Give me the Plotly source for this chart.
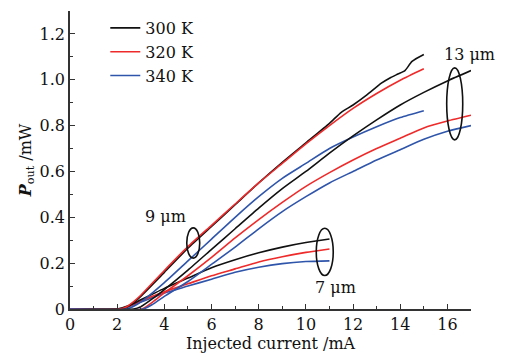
import plotly.graph_objects as go

# ---------------- data ----------------
temps = ["300 K", "320 K", "340 K"]
colors = ["#111111", "#ee2a2a", "#2f55ab"]

# 7 um ridge
x7_300 = [0, 2.0, 2.5, 3, 3.5, 4, 5, 6, 7, 8, 9, 10, 11]
y7_300 = [0, 0, 0.015, 0.04, 0.065, 0.09, 0.135, 0.18, 0.215, 0.245, 0.27, 0.29, 0.305]
x7_320 = [0, 2.1, 2.5, 3, 4, 5, 6, 7, 8, 9, 10, 11]
y7_320 = [0, 0, 0.012, 0.035, 0.075, 0.11, 0.145, 0.175, 0.205, 0.228, 0.247, 0.262]
x7_340 = [0, 2.2, 2.5, 3, 4, 5, 6, 7, 8, 9, 10, 11]
y7_340 = [0, 0, 0.01, 0.03, 0.07, 0.1, 0.13, 0.16, 0.182, 0.198, 0.207, 0.21]

# 9 um ridge
x9_300 = [0, 2.15, 2.4, 2.7, 3, 4, 5, 6, 7, 8, 9, 10, 11, 11.5, 12, 12.6, 13.2, 13.6, 13.9, 14.2, 14.5, 15]
y9_300 = [0, 0, 0.008, 0.028, 0.055, 0.16, 0.265, 0.36, 0.455, 0.55, 0.64, 0.725, 0.81, 0.858, 0.89, 0.935, 0.985, 1.01, 1.025, 1.04, 1.08, 1.11]
x9_320 = [0, 2.1, 2.4, 2.7, 3, 4, 5, 6, 7, 8, 9, 10, 11, 12, 13, 14, 15]
y9_320 = [0, 0, 0.01, 0.032, 0.06, 0.168, 0.272, 0.365, 0.458, 0.55, 0.635, 0.72, 0.80, 0.875, 0.94, 0.998, 1.048]
x9_340 = [0, 2.4, 2.7, 3, 4, 5, 6, 7, 8, 9, 10, 11, 12, 13, 14, 15]
y9_340 = [0, 0, 0.012, 0.03, 0.115, 0.21, 0.305, 0.40, 0.49, 0.57, 0.635, 0.70, 0.75, 0.795, 0.835, 0.865]

# 13 um ridge
x13_300 = [0, 2.7, 3, 3.5, 4, 5, 6, 7, 8, 9, 10, 11, 12, 13, 14, 15, 16, 17]
y13_300 = [0, 0, 0.01, 0.045, 0.085, 0.17, 0.26, 0.35, 0.44, 0.525, 0.60, 0.68, 0.755, 0.825, 0.89, 0.945, 0.995, 1.04]
x13_320 = [0, 3.05, 3.5, 4, 5, 6, 7, 8, 9, 10, 11, 12, 13, 14, 15, 16, 17]
y13_320 = [0, 0, 0.03, 0.07, 0.145, 0.225, 0.31, 0.39, 0.465, 0.535, 0.595, 0.65, 0.70, 0.745, 0.79, 0.82, 0.845]
x13_340 = [0, 3.1, 3.5, 4, 5, 6, 7, 8, 9, 10, 11, 12, 13, 14, 15, 16, 17]
y13_340 = [0, 0, 0.02, 0.055, 0.12, 0.195, 0.27, 0.35, 0.425, 0.49, 0.55, 0.60, 0.65, 0.695, 0.74, 0.775, 0.80]

y_tickvals = [0, 0.2, 0.4, 0.6, 0.8, 1.0, 1.2]
y_ticktext = ["0", "0.2", "0.4", "0.6", "0.8", "1.0", "1.2"]
x_tickvals = [0, 2, 4, 6, 8, 10, 12, 14, 16]

# ring annotations: label, label position, ellipse box (x0, x1, y0, y1)
ring_labels = ["9 μm", "13 μm", "7 μm"]
ring_label_pos = [(4.05, 0.405), (16.95, 1.11), (11.25, 0.095)]
ring_boxes = [(4.95, 5.5, 0.222, 0.354), (15.97, 16.65, 0.738, 1.052), (10.44, 11.16, 0.146, 0.352)]

# ---------------- figure ----------------
fig = go.Figure()
groups = [
    [(x7_300, y7_300), (x7_320, y7_320), (x7_340, y7_340)],
    [(x9_300, y9_300), (x9_320, y9_320), (x9_340, y9_340)],
    [(x13_300, y13_300), (x13_320, y13_320), (x13_340, y13_340)],
]
for gi, grp in enumerate(groups):
    order = [2, 1, 0] if gi == 0 else [0, 1, 2]
    for ti in order:
        xs, ys = grp[ti]
        fig.add_trace(go.Scatter(
            x=xs, y=ys, mode="lines",
            line=dict(color=colors[ti], width=1.6, shape="spline", smoothing=0.6),
            name=temps[ti], legendgroup=temps[ti],
            showlegend=(gi == 1), legendrank=ti + 1,
        ))

font_family = "DejaVu Serif"

for (x0, x1, y0, y1) in ring_boxes:
    fig.add_shape(type="circle", xref="x", yref="y", x0=x0, x1=x1, y0=y0, y1=y1,
                  line=dict(color="#111111", width=1.6))

for lbl, (lx, ly) in zip(ring_labels, ring_label_pos):
    fig.add_annotation(x=lx, y=ly, text=lbl, showarrow=False, xref="x", yref="y",
                       font=dict(family=font_family, size=16, color="#111111"))

fig.update_layout(
    width=507, height=360,
    margin=dict(l=70, r=36, t=11, b=51),
    paper_bgcolor="white", plot_bgcolor="white",
    font=dict(family=font_family, size=16, color="#111111"),
    legend=dict(x=0.088, y=1.0, xanchor="left", yanchor="top",
                bgcolor="rgba(0,0,0,0)", font=dict(family=font_family, size=16),
                tracegroupgap=0, itemwidth=30),
    showlegend=True,
)
fig.update_xaxes(
    range=[0, 17], tickvals=x_tickvals, showgrid=False, zeroline=False, automargin=False,
    showline=True, linecolor="#333333", linewidth=1.5,
    ticks="inside", ticklen=5, tickwidth=1.2, tickcolor="#333333",
    minor=dict(dtick=1, ticks="inside", ticklen=3, tickcolor="#333333", showgrid=False),
    title=dict(text="Injected current /mA", standoff=0, font=dict(family=font_family, size=16)),
    tickfont=dict(family=font_family, size=16),
)
fig.update_yaxes(
    range=[0, 1.3], tickvals=y_tickvals, ticktext=y_ticktext, showgrid=False, zeroline=False,
    automargin=False,
    showline=True, linecolor="#333333", linewidth=1.5,
    ticks="inside", ticklen=5, tickwidth=1.2, tickcolor="#333333",
    minor=dict(dtick=0.1, ticks="inside", ticklen=3, tickcolor="#333333", showgrid=False),
    title=dict(text="<b><i>P</i></b><sub>out</sub> /mW", standoff=4, font=dict(family=font_family, size=16)),
    tickfont=dict(family=font_family, size=16),
)

fig.write_html("out.html", post_script="document.body.style.margin='0';",
               config={"displayModeBar": False})
